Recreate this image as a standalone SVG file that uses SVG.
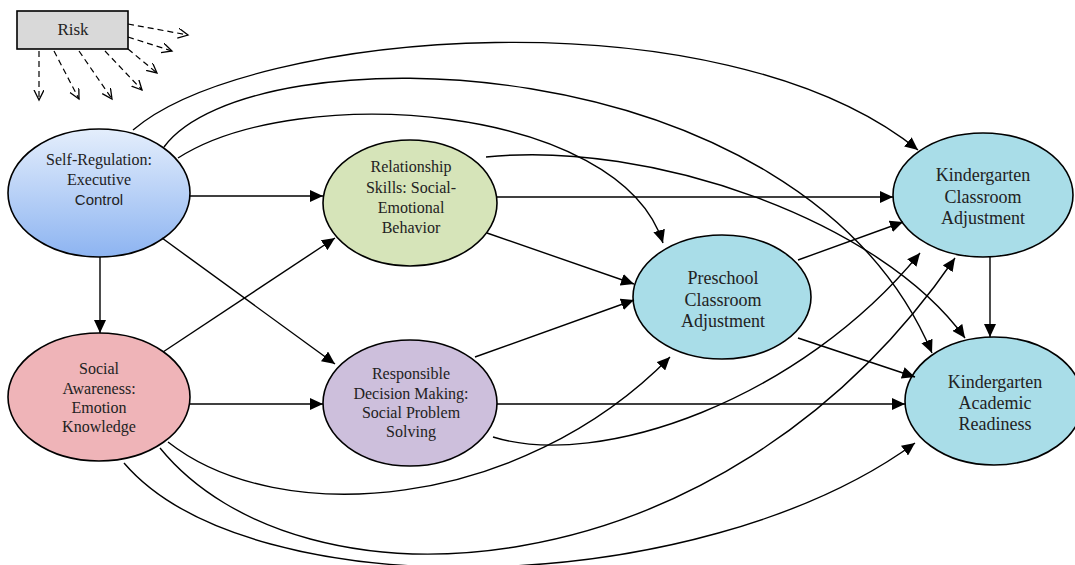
<svg xmlns="http://www.w3.org/2000/svg" width="1075" height="565" viewBox="0 0 1075 565">
<style>
.n{stroke:#000;stroke-width:1.6}
.t{font-family:"Liberation Serif","Times New Roman",serif;font-size:16px;fill:#222;text-anchor:middle}
.tl{font-size:18px}
.s{font-family:"Liberation Sans",Arial,sans-serif;font-size:15px;fill:#222;text-anchor:middle}
.c{fill:none;stroke:#000;stroke-width:1.4}
.a{marker-end:url(#ah)}
.d{fill:none;stroke:#000;stroke-width:1.2;stroke-dasharray:6,4;marker-end:url(#oh)}
</style>
<defs>
<marker id="ah" markerUnits="userSpaceOnUse" markerWidth="14" markerHeight="12" refX="13" refY="6" orient="auto"><path d="M0,0 L13,6 L0,12 z" fill="#000"/></marker>
<marker id="oh" markerUnits="userSpaceOnUse" markerWidth="12" markerHeight="12" refX="10" refY="5" orient="auto"><path d="M0,0 L10,5 L0,10" fill="none" stroke="#000" stroke-width="1.3"/></marker>
<linearGradient id="gsr" x1="0" y1="0" x2="0" y2="1"><stop offset="0" stop-color="#e4eefc"/><stop offset="1" stop-color="#8db4f1"/></linearGradient>
</defs>
<rect width="1075" height="565" fill="#fff"/>

<g id="risk">
<rect x="17" y="11" width="111" height="38" fill="#d9d9d9" stroke="#000" stroke-width="1.6"/>
<text class="t" x="73" y="35" style="font-size:17px">Risk</text>
</g>

<g id="n-sr">
<ellipse class="n" cx="99" cy="193" rx="91" ry="64" fill="url(#gsr)"/>
<text class="t" x="99" y="165">Self-Regulation:</text>
<text class="t" x="99" y="185">Executive</text>
<text class="s" x="99" y="205">Control</text>
</g>
<g id="n-sa">
<ellipse class="n" cx="99" cy="397" rx="91" ry="64" fill="#efb4b8"/>
<text class="t" x="99" y="374">Social</text>
<text class="t" x="99" y="394">Awareness:</text>
<text class="t" x="99" y="413">Emotion</text>
<text class="t" x="99" y="432">Knowledge</text>
</g>
<g id="n-rs">
<ellipse class="n" cx="410" cy="203" rx="87" ry="63" fill="#d6e4b9"/>
<text class="t" x="411" y="172">Relationship</text>
<text class="t" x="411" y="193">Skills: Social-</text>
<text class="t" x="411" y="213">Emotional</text>
<text class="t" x="411" y="233">Behavior</text>
</g>
<g id="n-rdm">
<ellipse class="n" cx="410" cy="403" rx="87" ry="63" fill="#cdbfdc"/>
<text class="t" x="411" y="379">Responsible</text>
<text class="t" x="411" y="399">Decision Making:</text>
<text class="t" x="411" y="418">Social Problem</text>
<text class="t" x="411" y="437">Solving</text>
</g>
<g id="n-pca">
<ellipse class="n" cx="722" cy="297" rx="89" ry="62" fill="#a9dde8"/>
<text class="t tl" x="723" y="284">Preschool</text>
<text class="t tl" x="723" y="306">Classroom</text>
<text class="t tl" x="723" y="327">Adjustment</text>
</g>
<g id="n-kca">
<ellipse class="n" cx="983" cy="195" rx="90" ry="62" fill="#a9dde8"/>
<text class="t tl" x="983" y="181">Kindergarten</text>
<text class="t tl" x="983" y="203">Classroom</text>
<text class="t tl" x="983" y="224">Adjustment</text>
</g>
<g id="n-kar">
<ellipse class="n" cx="994" cy="401" rx="89" ry="64" fill="#a9dde8"/>
<text class="t tl" x="995" y="388">Kindergarten</text>
<text class="t tl" x="995" y="409">Academic</text>
<text class="t tl" x="995" y="430">Readiness</text>
</g>

<g id="connectors">
<path class="d" d="M128,24 L188,35"/>
<path class="d" d="M128,37 L172,51"/>
<path class="d" d="M128,49 L157,73"/>
<path class="d" d="M105,51 L142,90"/>
<path class="d" d="M79,51 L112,99"/>
<path class="d" d="M54,51 L79,99"/>
<path class="d" d="M39,51 L39,100"/>

<path class="c a" d="M100,257 L100,333"/>
<path class="c a" d="M190,196 L323,196"/>
<path class="c a" d="M162,238 L335,364"/>
<path class="c a" d="M163,352 L335,238"/>
<path class="c a" d="M190,404 L323,404"/>
<path class="c a" d="M487,233 L634,284"/>
<path class="c a" d="M475,357 L634,300"/>
<path class="c a" d="M497,197 L893,197"/>
<path class="c a" d="M497,404 L905,404"/>
<path class="c a" d="M798,260 L903,222"/>
<path class="c a" d="M798,338 L915,377"/>
<path class="c a" d="M990,257 L990,337"/>

<path class="c a" d="M133,130 C250,30 720,-10 918,150"/>
<path class="c a" d="M164,147 C250,30 800,40 932,353"/>
<path class="c a" d="M178,158 C300,80 620,105 663,243"/>
<path class="c a" d="M486,157 C650,140 880,220 965,338"/>
<path class="c a" d="M168,442 C280,530 520,510 670,357"/>
<path class="c a" d="M160,448 C300,620 720,600 955,258"/>
<path class="c a" d="M124,463 C250,610 700,600 915,443"/>
<path class="c a" d="M493,437 C600,470 800,400 920,253"/>
</g>
</svg>
